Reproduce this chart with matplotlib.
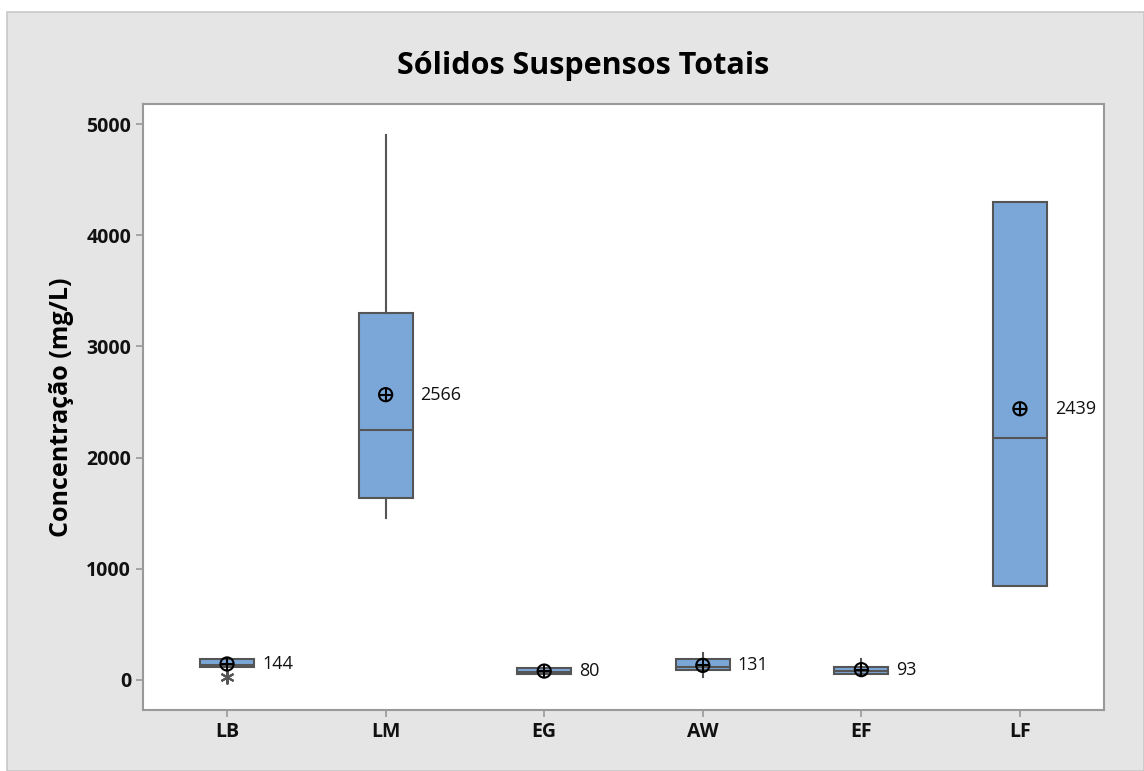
import matplotlib.pyplot as plt
from matplotlib.patches import Rectangle

plt.rcParams['font.family'] = ['Open Sans', 'DejaVu Sans']

# group data (mg/L)
groups = ['LB', 'LM', 'EG', 'AW', 'EF', 'LF']
q1 = [117, 1637, 54, 90, 54, 845]
med = [135, 2248, 72, 117, 80, 2176]
q3 = [189, 3300, 108, 189, 117, 4298]
whis_lo = [117, 1457, 54, 27, 54, 845]
whis_hi = [189, 4901, 108, 243, 189, 4298]
outliers = [[27], [], [], [], [], []]
means = [144, 2566, 80, 131, 93, 2439]

fig = plt.figure(figsize=(11.44, 7.71), dpi=100, facecolor='white')
fig.patches.append(Rectangle((7 / 1144, 0), 1 - 7 / 1144, 1 - 12 / 771,
                             transform=fig.transFigure, facecolor='#E5E5E5',
                             edgecolor='#C8C8C8', linewidth=1.2, zorder=-1))

ax = fig.add_axes([143 / 1144, 1 - 710 / 771, (1104 - 143) / 1144, (710 - 104) / 771])

stats = []
for i, g in enumerate(groups):
    stats.append(dict(label=g, q1=q1[i], med=med[i], q3=q3[i],
                      whislo=whis_lo[i], whishi=whis_hi[i], fliers=outliers[i]))

pos = list(range(1, len(groups) + 1))
ax.bxp(stats, positions=pos, widths=0.34, patch_artist=True, showcaps=False,
       boxprops=dict(facecolor='#7BA7D8', edgecolor='#555555', linewidth=1.5),
       medianprops=dict(color='#555555', linewidth=1.5),
       whiskerprops=dict(color='#555555', linewidth=1.5),
       flierprops=dict(marker=(6, 2, 0), markeredgecolor='#555555', markersize=10,
                       markeredgewidth=1.5))

ax.scatter(pos, means, s=90, facecolor='none', edgecolor='black', linewidth=1.5, zorder=5)
ax.scatter(pos, means, s=90, marker='+', color='black', linewidth=1.5, zorder=6)
for p, m in zip(pos, means):
    ax.text(p + 0.22, m, f'{m}', fontsize=13, va='center', ha='left', color='#111111')

ax.set_xlim(0.47, 6.53)
ax.set_ylim(-270, 5180)
ax.set_yticks([0, 1000, 2000, 3000, 4000, 5000])
ax.set_xticks(pos)
ax.set_xticklabels(groups)
for lbl in ax.get_xticklabels() + ax.get_yticklabels():
    lbl.set_fontweight('bold')
ax.tick_params(axis='both', labelsize=14, color='#999999', length=5, width=1.2,
               direction='out', labelcolor='#111111')
for s in ax.spines.values():
    s.set_color('#999999')
    s.set_linewidth(1.5)

ax.set_ylabel('Concentração (mg/L)', fontsize=18, fontweight='bold')
ax.yaxis.set_label_coords(-(143 - 74) / 961, 0.5)
fig.text(583 / 1144, 1 - 66 / 771, 'Sólidos Suspensos Totais',
         fontsize=22, fontweight='bold', ha='center', va='center')

fig.savefig('out.png', dpi=100, facecolor=fig.get_facecolor())
